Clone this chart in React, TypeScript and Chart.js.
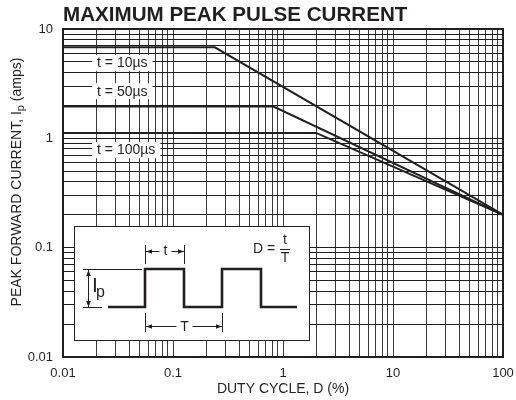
import React, { useEffect, useRef } from 'react';
import { Chart, registerables } from 'chart.js';

Chart.register(...registerables);

const FONT = '"Liberation Sans", Arial, Helvetica, sans-serif';

// ---- data ----
const xMajor = [0.01, 0.1, 1, 10, 100];
const xTickLabels = ['0.01', '0.1', '1', '10', '100'];
const yMajor = [0.01, 0.1, 1, 10];
const yTickLabels = ['0.01', '0.1', '1', '10'];

const dutyT10 = [0.01, 0.24, 100];
const currT10 = [6.8, 6.8, 0.2];
const dutyT50 = [0.01, 0.82, 100];
const currT50 = [1.95, 1.95, 0.2];
const dutyT100 = [0.01, 2.0, 100];
const currT100 = [1.12, 1.12, 0.2];

const seriesLabels = ['t = 10µs', 't = 50µs', 't = 100µs'];
const labelX = [0.0204, 0.0204, 0.0204];
const labelY = [4.9, 2.7, 0.78];

const titleText = 'MAXIMUM PEAK PULSE CURRENT';
const xTitle = 'DUTY CYCLE, D (%)';

function gridValues(major: number[]): number[] {
  const out: number[] = [];
  for (let i = 0; i < major.length - 1; i++) {
    for (let k = 1; k <= 9; k++) out.push(major[i] * k);
  }
  out.push(major[major.length - 1]);
  return out;
}

function majorIndex(major: number[], v: number): number {
  for (let i = 0; i < major.length; i++) {
    if (Math.abs(Math.log10(v) - Math.log10(major[i])) < 1e-6) return i;
  }
  return -1;
}

function zip(xs: number[], ys: number[]) {
  return xs.map((x, i) => ({ x, y: ys[i] }));
}

function arrowHead(ctx: CanvasRenderingContext2D, x: number, y: number, dir: string) {
  const L = 6, W = 2.3;
  ctx.beginPath();
  if (dir === 'l') { ctx.moveTo(x, y); ctx.lineTo(x + L, y - W); ctx.lineTo(x + L, y + W); }
  if (dir === 'r') { ctx.moveTo(x, y); ctx.lineTo(x - L, y - W); ctx.lineTo(x - L, y + W); }
  if (dir === 'u') { ctx.moveTo(x, y); ctx.lineTo(x - W, y + L); ctx.lineTo(x + W, y + L); }
  if (dir === 'd') { ctx.moveTo(x, y); ctx.lineTo(x - W, y - L); ctx.lineTo(x + W, y - L); }
  ctx.closePath();
  ctx.fill();
}

function line(ctx: CanvasRenderingContext2D, x1: number, y1: number, x2: number, y2: number) {
  ctx.beginPath();
  ctx.moveTo(x1, y1);
  ctx.lineTo(x2, y2);
  ctx.stroke();
}

const decorPlugin = {
  id: 'decor',
  afterDraw(chart: any) {
    const ctx: CanvasRenderingContext2D = chart.ctx;
    const ca = chart.chartArea;
    const xs = chart.scales.x;
    const ys = chart.scales.y;
    ctx.save();
    const ink = '#231f20';

    // series labels with white boxes
    ctx.font = `14px ${FONT}`;
    ctx.textBaseline = 'middle';
    ctx.textAlign = 'left';
    seriesLabels.forEach((lbl, i) => {
      const px = xs.getPixelForValue(labelX[i]);
      const py = ys.getPixelForValue(labelY[i]);
      const w = ctx.measureText(lbl).width;
      ctx.fillStyle = '#fff';
      ctx.fillRect(px - 5, py - 8, w + 10, 16);
      ctx.fillStyle = ink;
      ctx.fillText(lbl, px, py + 0.5);
    });

    // inset box
    const L = ca.left, T = ca.top;
    const bx1 = L + 11, by1 = T + 197, bx2 = L + 246, by2 = T + 311;
    ctx.fillStyle = '#fff';
    ctx.fillRect(bx1, by1, bx2 - bx1, by2 - by1);
    ctx.strokeStyle = ink;
    ctx.lineWidth = 1;
    ctx.strokeRect(bx1 + 0.5, by1 + 0.5, bx2 - bx1, by2 - by1);

    // pulse
    const base = T + 278, high = T + 240;
    const p0 = L + 45, r1 = L + 82, f1 = L + 121, r2 = L + 159, f2 = L + 198, pe = L + 234;
    ctx.lineWidth = 2.6;
    ctx.lineJoin = 'miter';
    ctx.beginPath();
    ctx.moveTo(p0, base);
    ctx.lineTo(r1, base); ctx.lineTo(r1, high); ctx.lineTo(f1, high); ctx.lineTo(f1, base);
    ctx.lineTo(r2, base); ctx.lineTo(r2, high); ctx.lineTo(f2, high); ctx.lineTo(f2, base);
    ctx.lineTo(pe, base);
    ctx.stroke();

    ctx.lineWidth = 1;
    ctx.fillStyle = ink;
    // t dimension
    const ty = T + 222;
    line(ctx, r1 + 0.5, T + 216, r1 + 0.5, T + 235);
    line(ctx, f1 + 0.5, T + 216, f1 + 0.5, T + 235);
    ctx.font = `14px ${FONT}`;
    ctx.textAlign = 'center';
    ctx.textBaseline = 'middle';
    const tcx = (r1 + f1) / 2 + 1;
    ctx.fillText('t', tcx, ty);
    line(ctx, r1 + 1, ty + 0.5, tcx - 6, ty + 0.5);
    line(ctx, tcx + 6, ty + 0.5, f1, ty + 0.5);
    arrowHead(ctx, r1 + 1, ty + 0.5, 'l');
    arrowHead(ctx, f1, ty + 0.5, 'r');

    // T dimension
    const Ty = T + 297;
    line(ctx, r1 + 0.5, T + 284, r1 + 0.5, T + 303);
    line(ctx, r2 + 0.5, T + 284, r2 + 0.5, T + 303);
    const Tcx = (r1 + r2) / 2 + 1;
    ctx.fillText('T', Tcx, Ty + 1);
    line(ctx, r1 + 1, Ty + 0.5, Tcx - 8, Ty + 0.5);
    line(ctx, Tcx + 8, Ty + 0.5, r2, Ty + 0.5);
    arrowHead(ctx, r1 + 1, Ty + 0.5, 'l');
    arrowHead(ctx, r2, Ty + 0.5, 'r');

    // Ip dimension
    line(ctx, L + 20, high + 0.5, L + 79, high + 0.5);
    line(ctx, L + 20, base + 0.5, L + 39, base + 0.5);
    const ax = L + 25.5;
    line(ctx, ax, high + 1, ax, base);
    arrowHead(ctx, ax, high + 1, 'u');
    arrowHead(ctx, ax, base, 'd');
    ctx.textAlign = 'left';
    ctx.textBaseline = 'alphabetic';
    ctx.font = `21px ${FONT}`;
    ctx.fillText('I', L + 29, T + 263);
    ctx.font = `16px ${FONT}`;
    ctx.fillText('p', L + 33, T + 268);

    // D = t / T
    ctx.font = `14px ${FONT}`;
    ctx.textBaseline = 'middle';
    ctx.textAlign = 'left';
    ctx.fillText('D =', L + 190, T + 220);
    ctx.textAlign = 'center';
    const fx = L + 222;
    ctx.fillText('t', fx, T + 211);
    ctx.fillText('T', fx, T + 229);
    line(ctx, fx - 5, T + 220.5, fx + 5, T + 220.5);

    // plot frame
    ctx.lineWidth = 2;
    ctx.strokeStyle = ink;
    ctx.strokeRect(ca.left, ca.top, ca.right - ca.left, ca.bottom - ca.top);

    // chart title
    ctx.fillStyle = ink;
    ctx.font = `bold 20.6px ${FONT}`;
    ctx.textAlign = 'left';
    ctx.textBaseline = 'alphabetic';
    ctx.fillText(titleText, ca.left, 21);

    // x title
    ctx.font = `14px ${FONT}`;
    ctx.textAlign = 'center';
    ctx.textBaseline = 'middle';
    ctx.fillText(xTitle, (ca.left + ca.right) / 2, 389);

    // y title with subscript
    ctx.save();
    ctx.translate(16, 182);
    ctx.rotate(-Math.PI / 2);
    const partA = 'PEAK FORWARD CURRENT, I';
    const partB = 'p';
    const partC = ' (amps)';
    ctx.font = `14px ${FONT}`;
    const wA = ctx.measureText(partA).width;
    const wC = ctx.measureText(partC).width;
    ctx.font = `11px ${FONT}`;
    const wB = ctx.measureText(partB).width;
    const total = wA + wB + wC;
    let cx = -total / 2;
    ctx.textAlign = 'left';
    ctx.textBaseline = 'alphabetic';
    ctx.font = `14px ${FONT}`;
    ctx.fillText(partA, cx, 5);
    cx += wA;
    ctx.font = `11px ${FONT}`;
    ctx.fillText(partB, cx, 8);
    cx += wB;
    ctx.font = `14px ${FONT}`;
    ctx.fillText(partC, cx, 5);
    ctx.restore();

    ctx.restore();
  },
};

export default function App() {
  const canvasRef = useRef<HTMLCanvasElement | null>(null);

  useEffect(() => {
    document.body.style.margin = '0';
    const canvas = canvasRef.current;
    if (!canvas) return;
    const ink = '#231f20';
    const ds = (xs: number[], ys: number[], label: string) => ({
      label,
      data: zip(xs, ys),
      borderColor: ink,
      borderWidth: 2,
      pointRadius: 0,
      tension: 0,
      fill: false,
    });
    const chart = new Chart(canvas, {
      type: 'line',
      data: {
        datasets: [
          ds(dutyT10, currT10, seriesLabels[0]),
          ds(dutyT50, currT50, seriesLabels[1]),
          ds(dutyT100, currT100, seriesLabels[2]),
        ],
      },
      options: {
        animation: false,
        responsive: false,
        devicePixelRatio: 1,
        layout: { padding: { top: 29, right: 13, left: 0, bottom: 0 } },
        plugins: { legend: { display: false }, tooltip: { enabled: false }, title: { display: false } },
        scales: {
          x: {
            type: 'logarithmic',
            min: 0.01,
            max: 100,
            afterBuildTicks: (s: any) => {
              s.ticks = gridValues(xMajor).map((v) => ({ value: v }));
            },
            afterFit: (s: any) => {
              s.height = 43;
              s.paddingLeft = 0;
              s.paddingRight = 0;
            },
            ticks: {
              autoSkip: false,
              maxRotation: 0,
              padding: 9,
              color: ink,
              font: { family: FONT, size: 13 },
              callback: (v: any) => {
                const i = majorIndex(xMajor, Number(v));
                return i >= 0 ? xTickLabels[i] : '';
              },
            },
            grid: { drawTicks: false, color: '#3a3a3a', lineWidth: 1 },
            border: { display: false },
          },
          y: {
            type: 'logarithmic',
            min: 0.01,
            max: 10,
            afterBuildTicks: (s: any) => {
              s.ticks = gridValues(yMajor).map((v) => ({ value: v }));
            },
            afterFit: (s: any) => {
              s.width = 63;
              s.paddingTop = 0;
              s.paddingBottom = 0;
            },
            ticks: {
              autoSkip: false,
              padding: 10,
              color: ink,
              font: { family: FONT, size: 13 },
              callback: (v: any) => {
                const i = majorIndex(yMajor, Number(v));
                return i >= 0 ? yTickLabels[i] : '';
              },
            },
            grid: { drawTicks: false, color: '#1e1e1e', lineWidth: 1 },
            border: { display: false },
          },
        },
      },
      plugins: [decorPlugin],
    } as any);
    return () => chart.destroy();
  }, []);

  return (
    <div style={{ width: 516, height: 400 }}>
      <canvas ref={canvasRef} width={516} height={400} />
    </div>
  );
}
